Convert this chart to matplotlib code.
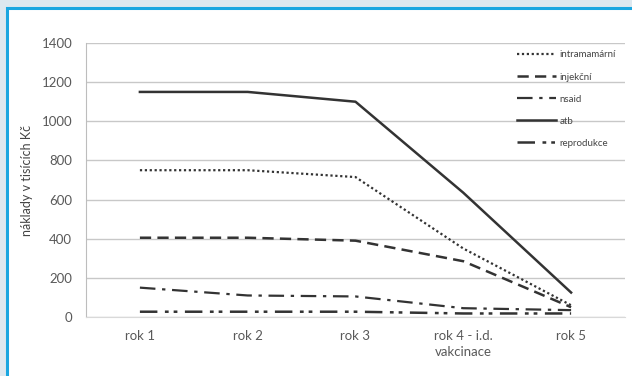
import matplotlib.pyplot as plt

roky = ["rok 1", "rok 2", "rok 3", "rok 4 - i.d.\nvakcinace", "rok 5"]

intramamarni = [750, 750, 715, 350, 60]
injekcni = [405, 405, 390, 285, 50]
nsaid = [150, 110, 105, 45, 35]
atb = [1150, 1150, 1100, 635, 125]
reprodukce = [27, 27, 27, 18, 18]

plt.rcParams['font.family'] = ['Lato', 'DejaVu Sans']

fig = plt.figure(figsize=(6.32, 3.76), dpi=100)
fig.patch.set_facecolor('#dde8ef')

# bílý panel s modrým okrajem (pod grafem)
panel = plt.Rectangle((7 / 632, -0.1), 1.0, (376 - 8) / 376 + 0.1,
                      transform=fig.transFigure, facecolor='white',
                      edgecolor='#1aa6e0', linewidth=2.2, zorder=-1)
fig.patches.append(panel)

ax = fig.add_axes([86 / 632, 59 / 376, 539 / 632, 274 / 376])
ax.set_facecolor('none')

x = range(len(roky))
barva = '#333333'
ax.plot(x, intramamarni, color=barva, lw=1.6, linestyle=(0, (1, 1.2)), label='intramamární')
ax.plot(x, injekcni, color=barva, lw=1.8, linestyle=(0, (4.5, 2.5)), label='injekční')
ax.plot(x, nsaid, color=barva, lw=1.6, linestyle=(0, (7, 3, 1.5, 3)), label='nsaid')
ax.plot(x, atb, color=barva, lw=1.8, label='atb')
ax.plot(x, reprodukce, color=barva, lw=1.8,
        linestyle=(0, (7, 3, 1.5, 2, 1.5, 3)), label='reprodukce')

ax.set_xlim(-0.5, len(roky) - 0.5)
ax.set_ylim(0, 1400)
ax.set_yticks(range(0, 1401, 200))
ax.set_xticks(list(x))
ax.set_xticklabels(roky, fontsize=9.5, color='#595959', linespacing=1.4)
ax.tick_params(axis='y', labelsize=9.5, labelcolor='#595959', length=0, pad=10)
ax.tick_params(axis='x', length=0, pad=9)

ax.grid(axis='y', color='#c8c8c8', linewidth=1)
ax.set_axisbelow(True)
for s in ['top', 'right']:
    ax.spines[s].set_visible(False)
ax.spines['left'].set_color('#bdbdbd')
ax.spines['bottom'].set_color('#d9d9d9')

ax.set_ylabel('náklady v tisících Kč', fontsize=9, color='#444444', labelpad=6)

leg = ax.legend(loc='upper right', bbox_to_anchor=(1.0, 1.005), frameon=False,
                fontsize=7, handlelength=4.0, labelspacing=1.35, handletextpad=0.4)
for t in leg.get_texts():
    t.set_color('#444444')

fig.savefig('out.png', dpi=100, facecolor=fig.get_facecolor())
